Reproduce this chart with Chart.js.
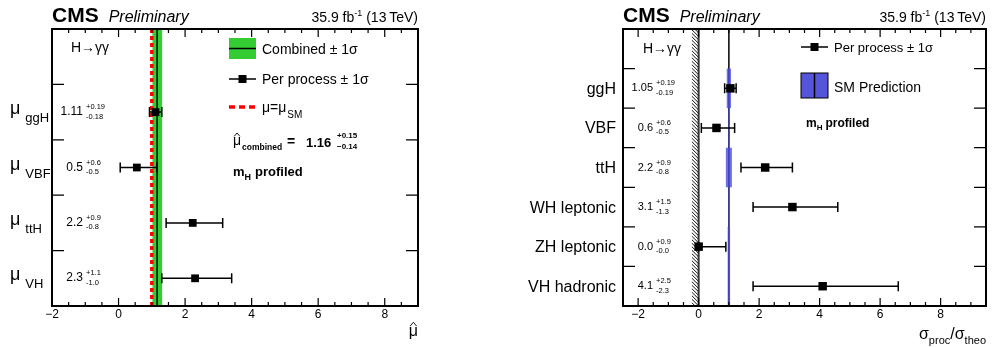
<!DOCTYPE html>
<html>
<head>
<meta charset="utf-8">
<script src="https://cdn.jsdelivr.net/npm/chart.js@4"></script>
<style>
  body { margin: 0; background: #fff; }
  #wrap { position: relative; width: 992px; height: 347px; }
  canvas { position: absolute; top: 0; }
</style>
</head>
<body>
<div id="wrap">
  <canvas id="muChart" width="496" height="347" style="left:0"></canvas>
  <canvas id="xsChart" width="496" height="347" style="left:496px"></canvas>
</div>
<script>
// left panel: signal strength per production mode
const muCats = ['ggH', 'VBF', 'ttH', 'VH'];
const muVals = [1.11, 0.55, 2.23, 2.3];
const muUp = [0.19, 0.6, 0.9, 1.1];
const muDown = [0.18, 0.5, 0.8, 1.0];
const muText = ['1.11', '0.5', '2.2', '2.3'];
const muUpText = ['+0.19', '+0.6', '+0.9', '+1.1'];
const muDownText = ['-0.18', '-0.5', '-0.8', '-1.0'];
const combMu = 1.16, combUp = 0.15, combDown = 0.14;

// right panel: cross section ratios
const xsCats = ['ggH', 'VBF', 'ttH', 'WH leptonic', 'ZH leptonic', 'VH hadronic'];
const xsVals = [1.05, 0.59, 2.2, 3.1, 0.0, 4.1];
const xsUp = [0.19, 0.6, 0.9, 1.5, 0.9, 2.5];
const xsDown = [0.19, 0.5, 0.8, 1.3, 0.0, 2.3];
const xsText = ['1.05', '0.6', '2.2', '3.1', '0.0', '4.1'];
const xsUpText = ['+0.19', '+0.6', '+0.9', '+1.5', '+0.9', '+2.5'];
const xsDownText = ['-0.19', '-0.5', '-0.8', '-1.3', '-0.0', '-2.3'];
const smUnc = [0.07, 0.02, 0.1, 0.02, 0.04, 0.04];

const xTicks = [-2, 0, 2, 4, 6, 8];

const FONT = '"Liberation Sans", Arial, Helvetica, sans-serif';
const f = (size, style) => (style ? style + ' ' : '') + size + 'px ' + FONT;

function put(ctx, s, x, y, font, align) {
  ctx.font = font;
  ctx.textAlign = align || 'left';
  ctx.textBaseline = 'alphabetic';
  ctx.fillText(s, x, y);
  return ctx.measureText(s).width;
}

function vline(ctx, x, y0, y1) {
  ctx.beginPath(); ctx.moveTo(x, y0); ctx.lineTo(x, y1); ctx.stroke();
}

function header(ctx, a) {
  ctx.fillStyle = '#000';
  const w = put(ctx, 'CMS', a.left, 22, f(21, 'bold'));
  put(ctx, 'Preliminary', a.left + w + 10, 22, f(16, 'italic'));
  ctx.font = f(14);
  const w1 = ctx.measureText('35.9 fb').width;
  const w3 = ctx.measureText(' (13\u2009TeV)').width;
  ctx.font = f(9);
  const w2 = ctx.measureText('-1').width;
  const x0 = a.right - w1 - w2 - w3;
  put(ctx, '35.9 fb', x0, 22, f(14));
  put(ctx, '-1', x0 + w1, 16, f(9));
  put(ctx, ' (13\u2009TeV)', x0 + w1 + w2, 22, f(14));
}

function frame(ctx, chart, nRows) {
  const { chartArea: a, scales: { x, y } } = chart;
  ctx.strokeStyle = '#000';
  ctx.lineWidth = 2;
  ctx.strokeRect(a.left, a.top, a.right - a.left, a.bottom - a.top);
  ctx.lineWidth = 1.2;
  ctx.beginPath();
  for (let v = Math.ceil(x.min * 2) / 2; v <= x.max + 1e-6; v += 0.5) {
    const px = x.getPixelForValue(v);
    const len = Math.abs(v % 2) < 1e-6 ? 8 : 4;
    ctx.moveTo(px, a.bottom); ctx.lineTo(px, a.bottom - len);
    ctx.moveTo(px, a.top); ctx.lineTo(px, a.top + len);
  }
  for (let i = 0; i < nRows; i++) {
    const py = y.getPixelForValue(i + 0.5);
    ctx.moveTo(a.left, py); ctx.lineTo(a.left + 12, py);
    ctx.moveTo(a.right, py); ctx.lineTo(a.right - 12, py);
  }
  ctx.stroke();
}

function errorBars(ctx, x, y, vals, up, down) {
  ctx.strokeStyle = '#000';
  ctx.lineWidth = 1.5;
  vals.forEach((v, i) => {
    const py = y.getPixelForValue(i + 1);
    const lo = x.getPixelForValue(v - down[i]);
    const hi = x.getPixelForValue(v + up[i]);
    ctx.beginPath();
    ctx.moveTo(lo, py); ctx.lineTo(hi, py);
    ctx.moveTo(lo, py - 5); ctx.lineTo(lo, py + 5);
    ctx.moveTo(hi, py - 5); ctx.lineTo(hi, py + 5);
    ctx.stroke();
  });
}

function annot(ctx, y, texts, ups, downs, xRight, xSup, size) {
  ctx.fillStyle = '#000';
  texts.forEach((t, i) => {
    const py = y.getPixelForValue(i + 1);
    put(ctx, t, xRight, py + 3, f(size), 'right');
    put(ctx, ups[i], xSup, py - 3, f(7.5));
    put(ctx, downs[i], xSup, py + 6.5, f(7.5));
  });
}

function muHat(ctx, x, y, size, style) {
  const w = put(ctx, '\u03bc', x, y, f(size, style));
  ctx.lineWidth = 0.9;
  ctx.beginPath();
  ctx.moveTo(x + w * 0.15, y - size * 0.62);
  ctx.lineTo(x + w * 0.5, y - size * 0.86);
  ctx.lineTo(x + w * 0.85, y - size * 0.62);
  ctx.stroke();
  return w;
}

function baseConfig(vals, xmin, xmax, leftW, padRight, radius, extra) {
  return {
    type: 'scatter',
    data: {
      datasets: [{
        data: vals.map((v, i) => ({ x: v, y: i + 1 })),
        pointStyle: 'rect',
        pointRadius: radius,
        backgroundColor: '#000',
        borderColor: '#000',
        borderWidth: 0
      }]
    },
    options: {
      responsive: false,
      animation: false,
      devicePixelRatio: 1,
      layout: { padding: { left: 0, top: 29, right: padRight, bottom: 0 } },
      plugins: { legend: { display: false }, tooltip: { enabled: false } },
      scales: {
        x: {
          type: 'linear', min: xmin, max: xmax,
          afterBuildTicks: s => { s.ticks = xTicks.map(v => ({ value: v })); },
          afterFit: s => { s.height = 41; },
          grid: { display: false, drawTicks: false },
          border: { display: false },
          ticks: {
            padding: 1, maxRotation: 0, color: '#000',
            font: { family: FONT, size: 12 },
            callback: v => String(v).replace('-', '\u2212')
          }
        },
        y: {
          type: 'linear', reverse: true, min: -0.5, max: vals.length + 0.5,
          afterFit: s => { s.width = leftW; },
          grid: { display: false, drawTicks: false },
          border: { display: false },
          ticks: { display: false }
        }
      }
    },
    plugins: [extra]
  };
}

const muDecor = {
  id: 'muDecor',
  beforeDatasetsDraw(chart) {
    const { ctx, chartArea: a, scales: { x, y } } = chart;
    ctx.save();
    const b0 = x.getPixelForValue(combMu - combDown);
    const b1 = x.getPixelForValue(combMu + combUp);
    ctx.fillStyle = '#33cc33';
    ctx.fillRect(b0, a.top, b1 - b0, a.bottom - a.top);
    ctx.strokeStyle = '#000';
    ctx.lineWidth = 1.5;
    vline(ctx, x.getPixelForValue(combMu), a.top, a.bottom);
    ctx.strokeStyle = '#ff0000';
    ctx.lineWidth = 3.5;
    ctx.setLineDash([4, 3]);
    vline(ctx, x.getPixelForValue(1), a.top, a.bottom);
    ctx.setLineDash([]);
    errorBars(ctx, x, y, muVals, muUp, muDown);
    ctx.restore();
  },
  afterDraw(chart) {
    const { ctx, chartArea: a, scales: { x, y } } = chart;
    ctx.save();
    frame(ctx, chart, muCats.length);
    header(ctx, a);
    ctx.fillStyle = '#000';
    ctx.strokeStyle = '#000';
    // category labels
    muCats.forEach((c, i) => {
      const py = y.getPixelForValue(i + 1);
      const w = put(ctx, '\u03bc', 10, py + 2, f(18));
      put(ctx, c, 10 + w + 5, py + 10, f(13));
    });
    annot(ctx, y, muText, muUpText, muDownText, 83, 86, 12);
    put(ctx, 'H\u2192\u03b3\u03b3', 71, 52, f(14));
    // legend
    ctx.fillStyle = '#33cc33';
    ctx.fillRect(229, 38, 27, 21);
    ctx.lineWidth = 1.5;
    ctx.beginPath(); ctx.moveTo(229, 48.5); ctx.lineTo(256, 48.5); ctx.stroke();
    ctx.fillStyle = '#000';
    put(ctx, 'Combined \u00b1 1\u03c3', 262, 54, f(14));
    ctx.beginPath(); ctx.moveTo(229, 79); ctx.lineTo(256, 79); ctx.stroke();
    ctx.fillRect(238.5, 75, 8, 8);
    put(ctx, 'Per process \u00b1 1\u03c3', 262, 84, f(14));
    ctx.strokeStyle = '#ff0000';
    ctx.lineWidth = 3.5;
    ctx.setLineDash([6, 4]);
    ctx.beginPath(); ctx.moveTo(229, 107); ctx.lineTo(258, 107); ctx.stroke();
    ctx.setLineDash([]);
    ctx.strokeStyle = '#000';
    let w = put(ctx, '\u03bc=\u03bc', 262, 112, f(14));
    put(ctx, 'SM', 262 + w + 1, 118, f(10));
    // combined result
    w = muHat(ctx, 233, 145, 14);
    put(ctx, 'combined', 233 + w + 1, 150, f(8.5, 'bold'));
    put(ctx, '=', 287, 146, f(14, 'bold'));
    put(ctx, combMu.toFixed(2), 306, 147, f(13, 'bold'));
    put(ctx, '+' + combUp.toFixed(2), 337, 138, f(8, 'bold'));
    put(ctx, '\u2212' + combDown.toFixed(2), 337, 149, f(8, 'bold'));
    w = put(ctx, 'm', 233, 176, f(13, 'bold'));
    const w2 = put(ctx, 'H', 233 + w, 180, f(9, 'bold'));
    put(ctx, 'profiled', 233 + w + w2 + 4, 176, f(13, 'bold'));
    // axis title
    ctx.font = f(16);
    const mw = ctx.measureText('\u03bc').width;
    muHat(ctx, a.right - mw, 336, 16);
    ctx.restore();
  }
};

const xsDecor = {
  id: 'xsDecor',
  beforeDatasetsDraw(chart) {
    const { ctx, chartArea: a, scales: { x, y } } = chart;
    ctx.save();
    // unphysical region hatch
    const h0 = x.getPixelForValue(-0.23), h1 = x.getPixelForValue(0);
    ctx.beginPath(); ctx.rect(h0, a.top, h1 - h0, a.bottom - a.top); ctx.clip();
    ctx.strokeStyle = '#111';
    ctx.lineWidth = 1;
    ctx.beginPath();
    for (let yy = a.top - 10; yy < a.bottom + 10; yy += 3.5) {
      ctx.moveTo(h0, yy); ctx.lineTo(h1, yy + (h1 - h0));
    }
    ctx.stroke();
    ctx.restore();
    ctx.save();
    ctx.strokeStyle = '#333';
    ctx.lineWidth = 2;
    vline(ctx, h1, a.top, a.bottom);
    ctx.strokeStyle = '#000';
    ctx.lineWidth = 1.5;
    vline(ctx, x.getPixelForValue(1), a.top, a.bottom);
    // SM prediction bands
    ctx.fillStyle = 'rgba(75,75,225,0.8)';
    smUnc.forEach((u, i) => {
      const lo = x.getPixelForValue(1 - u), hi = x.getPixelForValue(1 + u);
      const t = y.getPixelForValue(i + 0.5), b = y.getPixelForValue(i + 1.5);
      ctx.fillRect(lo, t, Math.max(hi - lo, 1.2), b - t);
    });
    errorBars(ctx, x, y, xsVals, xsUp, xsDown);
    ctx.restore();
  },
  afterDraw(chart) {
    const { ctx, chartArea: a, scales: { x, y } } = chart;
    ctx.save();
    frame(ctx, chart, xsCats.length);
    header(ctx, a);
    ctx.fillStyle = '#000';
    ctx.strokeStyle = '#000';
    xsCats.forEach((c, i) => {
      const py = y.getPixelForValue(i + 1);
      put(ctx, c, a.left - 7, py + 5.5, f(16), 'right');
    });
    annot(ctx, y, xsText, xsUpText, xsDownText, 157, 160, 11);
    put(ctx, 'H\u2192\u03b3\u03b3', 147, 53, f(14));
    // legend
    ctx.lineWidth = 1.5;
    ctx.beginPath(); ctx.moveTo(305, 47); ctx.lineTo(332, 47); ctx.stroke();
    ctx.fillRect(314.5, 43, 8, 8);
    put(ctx, 'Per process \u00b1 1\u03c3', 338, 52, f(13));
    ctx.fillStyle = 'rgb(85,85,220)';
    ctx.fillRect(305, 73, 27, 25);
    ctx.lineWidth = 1;
    ctx.strokeRect(305, 73, 27, 25);
    ctx.lineWidth = 1.5;
    vline(ctx, 318.5, 73, 98);
    ctx.fillStyle = '#000';
    put(ctx, 'SM Prediction', 338, 92, f(14));
    let w = put(ctx, 'm', 310, 127, f(12, 'bold'));
    const w2 = put(ctx, 'H', 310 + w, 130, f(8, 'bold'));
    put(ctx, 'profiled', 310 + w + w2 + 3, 127, f(12, 'bold'));
    // axis title, right aligned
    const parts = [['\u03c3', f(16), 339], ['proc', f(11), 344], ['/\u03c3', f(16), 339], ['theo', f(11), 344]];
    let total = 0;
    parts.forEach(p => { ctx.font = p[1]; total += ctx.measureText(p[0]).width; });
    let px = a.right - total;
    parts.forEach(p => { px += put(ctx, p[0], px, p[2], p[1]); });
    ctx.restore();
  }
};

new Chart(document.getElementById('muChart'),
  baseConfig(muVals, -2, 9, 52, 78, 5.5, muDecor));
new Chart(document.getElementById('xsChart'),
  baseConfig(xsVals, -2.5, 9.5, 127, 2, 6, xsDecor));
</script>
</body>
</html>
